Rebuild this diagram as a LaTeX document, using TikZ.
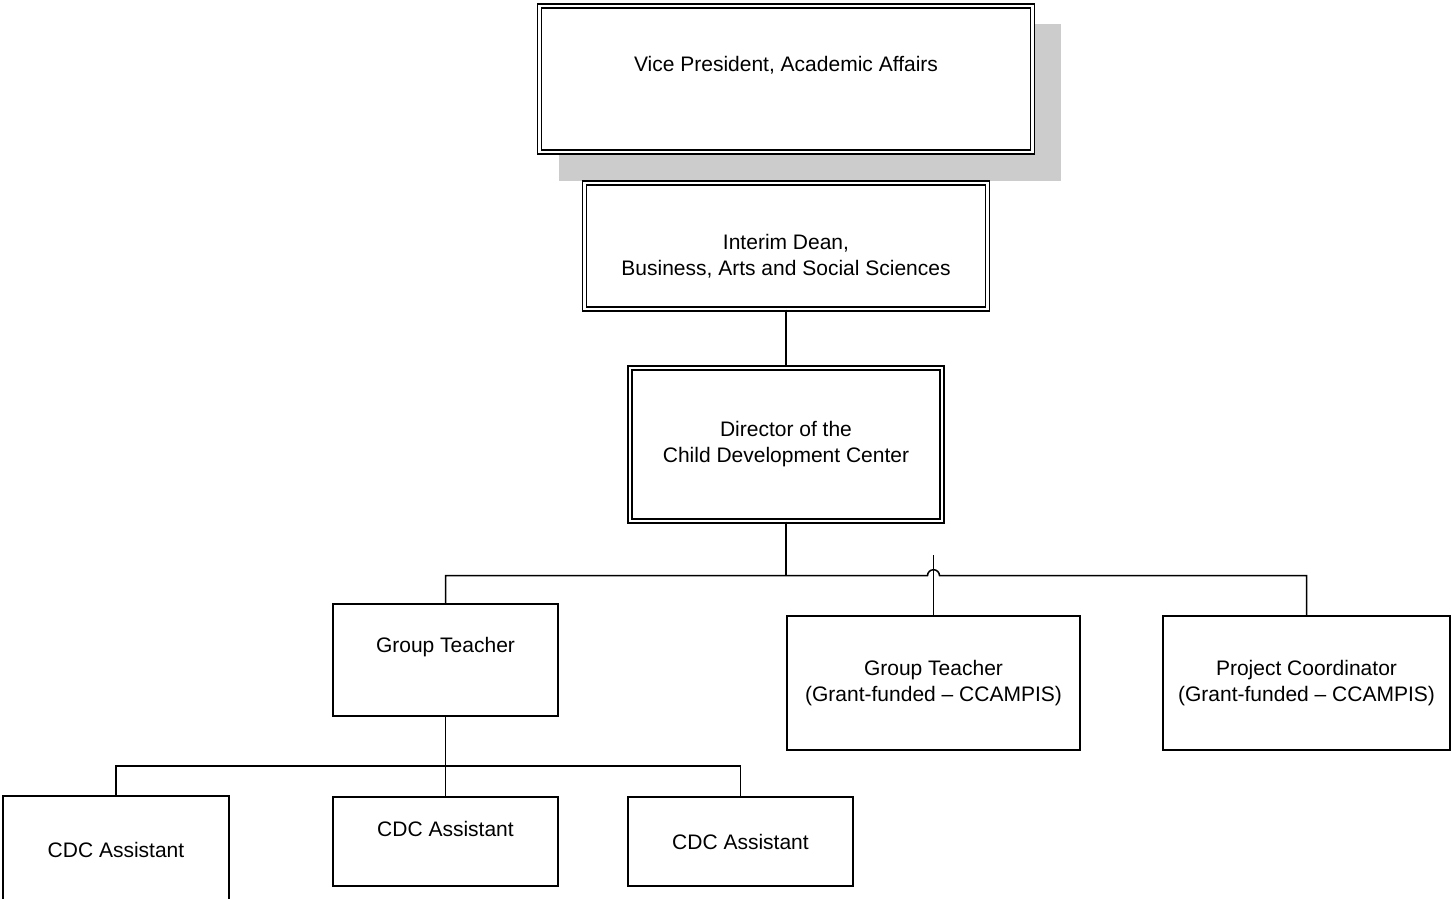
\documentclass[tikz,border=0pt]{standalone}
\usepackage{fontspec}
\setmainfont{Liberation Sans}
\usepackage{tikz}
\usetikzlibrary{backgrounds}

\begin{document}
\begin{tikzpicture}[x=1pt,y=1pt]
\tikzstyle{every node}+=[inner sep=0pt, align=center, font=\fontsize{21}{26}\selectfont]
\tikzstyle{office}=[draw=black, line width=1.4pt, double=white, double distance=2.4pt, fill=white]
\tikzstyle{unit}=[draw=black, line width=1.6pt, fill=white]
\tikzstyle{link}=[black, line width=1.5pt]
\useasboundingbox (0,0) rectangle (1452,-898);
\node [office, minimum width=493pt, minimum height=146pt, label={[yshift=14pt]center:{Vice President, Academic Affairs}}] (vp) at (786,-79) {};
\node [office, minimum width=403pt, minimum height=126pt, label={[yshift=-10pt]center:{Interim Dean,\\Business, Arts and Social Sciences}}] (dean) at (786,-246) {};
\node [office, minimum width=312pt, minimum height=153pt] (dir) at (786,-444.5) {Director of the\\Child Development Center};
\node [unit, minimum width=225pt, minimum height=112pt, label={[yshift=13pt]center:{Group Teacher}}] (gtA) at (445.5,-660) {};
\node [unit, minimum width=293pt, minimum height=134pt] (gtB) at (933.5,-683) {Group Teacher\\(Grant-funded -- CCAMPIS)};
\node [unit, minimum width=287pt, minimum height=134pt] (pc) at (1306.5,-683) {Project Coordinator\\(Grant-funded -- CCAMPIS)};
\node [unit, minimum width=226pt, minimum height=107pt] (cdcA) at (116,-849.5) {CDC Assistant};
\node [unit, minimum width=225pt, minimum height=89pt, label={[yshift=12.5pt]center:{CDC Assistant}}] (cdcB) at (445.5,-841.5) {};
\node [unit, minimum width=225pt, minimum height=89pt] (cdcC) at (740.5,-841.5) {CDC Assistant};
\begin{scope}[on background layer]
\fill [black!20] ([shift={(20,-19)}]vp.north west) rectangle ([shift={(28,-28)}]vp.south east);
\end{scope}
\coordinate (split) at ([yshift=-54pt]dir.south);
\coordinate (gtBtop) at ([yshift=60pt]gtB.north);
\coordinate (split2) at ([yshift=-49pt]gtA.south);
\draw [link] (dean) -- (dir);
\draw [link] (dir.south) -- (split);
\draw [link] (gtA.north) |- (split) -- ([xshift=-6pt]split -| gtB.north) arc[start angle=180, end angle=0, radius=6pt] -| (pc.north);
\draw [link] (gtBtop) -- (gtB.north);
\draw [link] (gtA.south) -- (cdcB.north);
\draw [link] (cdcA.north) |- (split2) -| (cdcC.north);
\end{tikzpicture}
\end{document}
